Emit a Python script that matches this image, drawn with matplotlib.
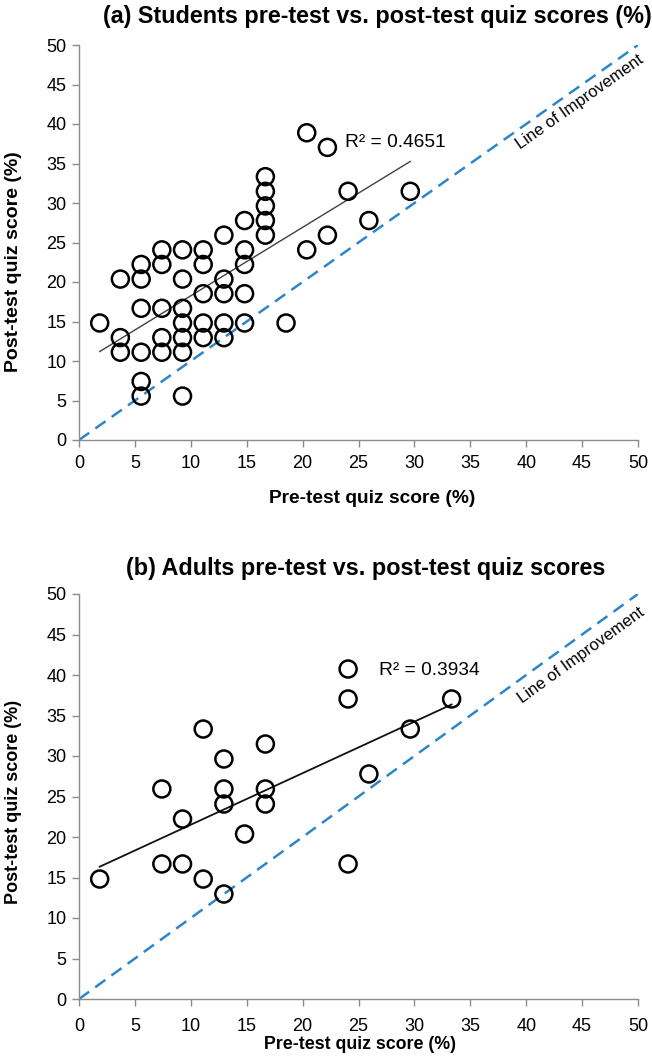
import matplotlib
matplotlib.use('Agg')
import matplotlib.pyplot as plt
import numpy as np

plt.rcParams['font.family'] = ['Liberation Sans', 'DejaVu Sans']

# Students (a): pre-test vs post-test scores (%)
students_pre = [1.85,
                3.70, 3.70, 3.70,
                5.56, 5.56, 5.56, 5.56, 5.56, 5.56,
                7.41, 7.41, 7.41, 7.41, 7.41,
                9.26, 9.26, 9.26, 9.26, 9.26, 9.26, 9.26,
                11.11, 11.11, 11.11, 11.11, 11.11,
                12.96, 12.96, 12.96, 12.96, 12.96,
                14.81, 14.81, 14.81, 14.81, 14.81,
                16.67, 16.67, 16.67, 16.67, 16.67,
                18.52,
                20.37, 20.37,
                22.22, 22.22,
                24.07, 25.93, 29.63]
students_post = [14.81,
                 20.37, 12.96, 11.11,
                 22.22, 20.37, 16.67, 11.11, 7.41, 5.56,
                 24.07, 22.22, 16.67, 12.96, 11.11,
                 24.07, 20.37, 16.67, 14.81, 12.96, 11.11, 5.56,
                 24.07, 22.22, 18.52, 14.81, 12.96,
                 25.93, 20.37, 18.52, 14.81, 12.96,
                 27.78, 24.07, 22.22, 18.52, 14.81,
                 33.33, 31.48, 29.63, 27.78, 25.93,
                 14.81,
                 38.89, 24.07,
                 37.04, 25.93,
                 31.48, 27.78, 31.48]

# Adults (b)
adults_pre = [1.85, 7.41, 7.41, 9.26, 9.26, 11.11, 11.11,
              12.96, 12.96, 12.96, 12.96, 14.81,
              16.67, 16.67, 16.67, 24.07, 24.07, 24.07,
              25.93, 29.63, 33.33]
adults_post = [14.81, 25.93, 16.67, 22.22, 16.67, 33.33, 14.81,
               29.63, 25.93, 24.07, 12.96, 20.37,
               31.48, 25.93, 24.07, 40.74, 37.04, 16.67,
               27.78, 33.33, 37.04]

ticks = [0, 5, 10, 15, 20, 25, 30, 35, 40, 45, 50]
line_of_improvement = [0, 50]

titles = ['(a) Students pre-test vs. post-test quiz scores (%)',
          '(b) Adults pre-test vs. post-test quiz scores']
r2_labels = ['R² = 0.4651', 'R² = 0.3934']

W, H = 652, 1058
fig = plt.figure(figsize=(W / 100, H / 100), dpi=100)

# axes boxes in pixels: left, top, right, bottom
boxes = [(79, 45, 638, 440), (79, 594, 638, 999)]
datasets = [(students_pre, students_post), (adults_pre, adults_post)]
r2_pos = [(23.8, 37.6), (26.8, 40.6)]
loi_pos = [(39.6, 36.4), (39.8, 36.2)]
trend_style = [dict(color='#404040', lw=1.0), dict(color='#111111', lw=1.3)]
xlabel_size = [13.8, 12.8]
ylabel_size = [14.0, 13.0]
xpad = [6, 9]

axes = []
for i, (l, t, r, b) in enumerate(boxes):
    ax = fig.add_axes([l / W, 1 - b / H, (r - l) / W, (b - t) / H])
    axes.append(ax)
    x, y = datasets[i]

    ax.plot(line_of_improvement, line_of_improvement, linestyle=(0, (5, 3)),
            color='#2E86C8', lw=1.8, zorder=1)

    # linear trend line fitted to the data
    coef = np.polyfit(x, y, 1)
    xs = np.array([min(x), max(x)])
    ax.plot(xs, np.polyval(coef, xs), zorder=2, **trend_style[i])

    ax.scatter(x, y, s=150, facecolors='none', edgecolors='black',
               linewidths=1.8, zorder=3)

    ax.text(r2_pos[i][0], r2_pos[i][1], r2_labels[i], fontsize=13.8,
            va='center', ha='left')
    ax.text(loi_pos[i][0], loi_pos[i][1], 'Line of Improvement', fontsize=12,
            rotation=45, transform_rotates_text=True, rotation_mode='anchor',
            ha='left', va='bottom', clip_on=False)

    ax.set_xlim(0, 50)
    ax.set_ylim(0, 50)
    ax.set_xticks(ticks)
    ax.set_yticks(ticks)
    for side in ['top', 'right']:
        ax.spines[side].set_visible(False)
    for side in ['left', 'bottom']:
        ax.spines[side].set_color('#8c8c8c')
        ax.spines[side].set_linewidth(1.0)
    ax.tick_params(direction='out', length=5, width=1.0, color='#8c8c8c',
                   labelsize=13, pad=4)
    ax.tick_params(axis='x', pad=xpad[i])

    ax.set_xlabel('Pre-test quiz score (%)', fontsize=xlabel_size[i],
                  fontweight='bold')
    ax.set_ylabel('Post-test quiz score (%)', fontsize=ylabel_size[i],
                  fontweight='bold')

# titles and label placement
fig.text(377 / W, 1 - 17 / H, titles[0], fontsize=16.8, fontweight='bold',
         ha='center', va='center')
fig.text(366 / W, 1 - 568 / H, titles[1], fontsize=16.8, fontweight='bold',
         ha='center', va='center')

axes[0].xaxis.set_label_coords(372 / W, 1 - 490 / H, transform=fig.transFigure)
axes[1].xaxis.set_label_coords(360 / W, 1 - 1036 / H, transform=fig.transFigure)
axes[0].yaxis.set_label_coords(22 / W, 1 - 262 / H, transform=fig.transFigure)
axes[1].yaxis.set_label_coords(22 / W, 1 - 802 / H, transform=fig.transFigure)

fig.savefig('out.png', dpi=100)
